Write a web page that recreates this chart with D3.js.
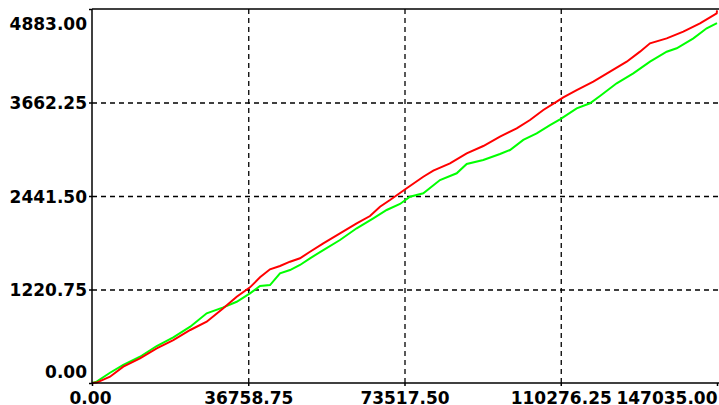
<!DOCTYPE html>
<html>
<head>
<meta charset="utf-8">
<script src="https://cdn.jsdelivr.net/npm/d3@7"></script>
<style>
  html, body { margin: 0; padding: 0; background: #fff; }
  svg { display: block; }
  text { font-family: "DejaVu Sans", sans-serif; font-weight: bold; font-size: 17px; fill: #000; }
</style>
</head>
<body>
<svg id="chart" width="719" height="405"></svg>
<script>
const xTicks = [0, 36758.75, 73517.5, 110276.25, 147035];
const yTicks = [0, 1220.75, 2441.5, 3662.25, 4883];

const redX = [0, 1100, 4235, 7364, 11292, 15221, 19126, 23110, 26984, 30889, 34042, 37170, 39523, 41875, 44228, 46581, 48933, 51286, 54415, 58340, 62269, 65401, 67754, 70106, 74035, 77941, 80293, 84222, 88151, 92056, 95984, 99913, 103042, 106171, 109323, 110876, 114028, 117934, 121862, 125791, 128920, 131273, 135201, 139107, 143035, 146964, 147035];
const redY = [0, 5, 82, 213, 322, 453, 561, 692, 800, 975, 1127, 1249, 1380, 1484, 1528, 1584, 1628, 1714, 1824, 1954, 2085, 2180, 2302, 2389, 2542, 2693, 2772, 2868, 2999, 3094, 3216, 3325, 3434, 3564, 3673, 3730, 3825, 3934, 4064, 4195, 4326, 4435, 4500, 4587, 4696, 4827, 4865];

const greenX = [0, 1106, 4235, 7364, 11292, 15221, 19126, 23110, 26984, 30889, 34042, 37170, 39523, 41875, 44228, 46581, 48933, 51286, 54415, 58340, 62269, 66177, 69330, 72459, 74811, 77941, 81869, 85798, 88151, 92056, 95984, 98337, 101466, 104618, 107747, 110100, 114028, 117157, 119510, 123438, 127344, 131273, 135201, 137554, 141483, 144612, 147035];
const greenY = [0, 17, 134, 235, 343, 483, 597, 735, 910, 988, 1061, 1171, 1266, 1279, 1432, 1475, 1541, 1628, 1736, 1867, 2020, 2150, 2259, 2337, 2432, 2477, 2650, 2738, 2859, 2911, 2990, 3042, 3173, 3260, 3368, 3443, 3586, 3652, 3747, 3913, 4043, 4195, 4325, 4370, 4500, 4631, 4700];

const L = 92, R = 717, T = 9, B = 383;
const x = d3.scaleLinear().domain([0, 147035]).range([L, R]);
const y = d3.scaleLinear().domain([0, 4883]).range([B, T]);

const svg = d3.select("#chart");
svg.append("rect").attr("width", 719).attr("height", 405).attr("fill", "#fff");

// grid
const gx = svg.append("g").attr("transform", `translate(0,${B})`)
  .call(d3.axisBottom(x).tickValues(xTicks.slice(1, -1)).tickSize(-(B - T)).tickFormat(""));
gx.select(".domain").remove();
gx.selectAll("line").attr("stroke", "#000").attr("stroke-width", 1.3).attr("stroke-dasharray", "5,4");

const gy = svg.append("g").attr("transform", `translate(${L},0)`)
  .call(d3.axisLeft(y).tickValues(yTicks.slice(1, -1)).tickSize(-(R - L + 2)).tickFormat(""));
gy.select(".domain").remove();
gy.selectAll("line").attr("stroke", "#000").attr("stroke-width", 1.3).attr("stroke-dasharray", "5,4");

// lines
const line = d3.line().x(d => x(d[0])).y(d => y(d[1]));
const greenData = greenX.map((v, i) => [v, greenY[i]]);
const redData = redX.map((v, i) => [v, redY[i]]);
svg.append("path").datum(greenData).attr("d", line).attr("fill", "none").attr("stroke", "#00ff00").attr("stroke-width", 2);
svg.append("path").datum(redData).attr("d", line).attr("fill", "none").attr("stroke", "#ff0000").attr("stroke-width", 2);

// frame
svg.append("line").attr("x1", L).attr("x2", 719).attr("y1", T).attr("y2", T).attr("stroke", "#000").attr("stroke-width", 1.5);

// axes
const fmt = d3.format(".2f");
const ax = svg.append("g").attr("transform", `translate(0,${B})`)
  .call(d3.axisBottom(x).tickValues(xTicks).tickSize(3).tickPadding(0).tickFormat(fmt));
ax.select(".domain").attr("stroke", "#000").attr("stroke-width", 1.5).attr("d", `M${L},0H719`);
ax.selectAll(".tick line").attr("stroke", "#000").attr("stroke-width", 1.5);
ax.selectAll("text").attr("y", 0).attr("dy", null).attr("transform", "translate(0,20.5)")
  .style("font-family", '"DejaVu Sans", sans-serif').style("font-size", "17px").style("font-weight", "bold")
  .attr("text-anchor", (d, i) => i === xTicks.length - 1 ? "end" : "middle")
  .attr("x", (d, i) => i === xTicks.length - 1 ? 0 : (i === 0 ? -2 : 0));

const ay = svg.append("g").attr("transform", `translate(${L},0)`)
  .call(d3.axisLeft(y).tickValues(yTicks).tickSize(3).tickPadding(2).tickFormat(fmt));
ay.select(".domain").attr("stroke", "#000").attr("stroke-width", 1.5).attr("d", `M0,${T}V${B}`);
ay.selectAll(".tick line").attr("stroke", "#000").attr("stroke-width", 1.5);
ay.selectAll("text").attr("dy", null)
  .style("font-family", '"DejaVu Sans", sans-serif').style("font-size", "17px").style("font-weight", "bold")
  .attr("y", (d, i) => i === 0 ? -6 : (i === yTicks.length - 1 ? 20 : 6.2));
</script>
</body>
</html>
